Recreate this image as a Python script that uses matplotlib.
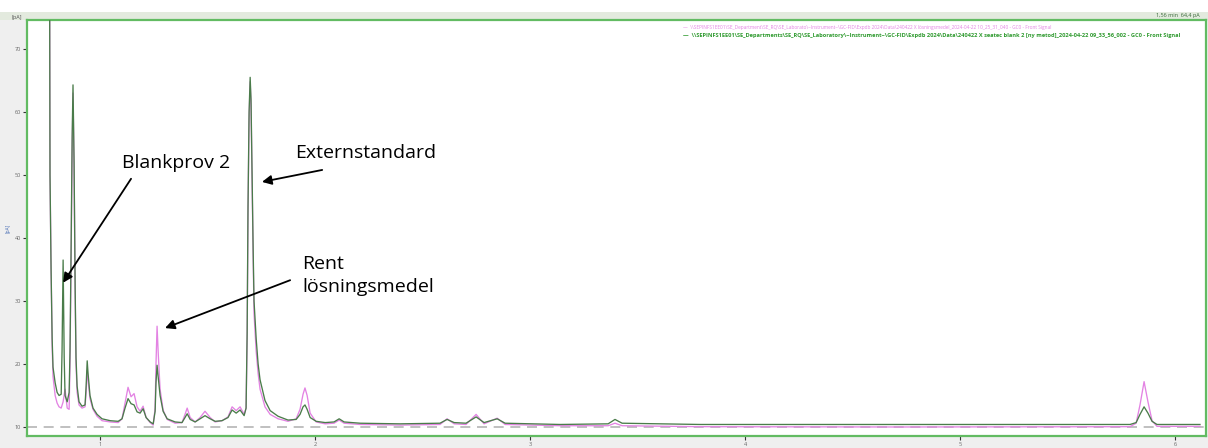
import matplotlib
matplotlib.use("Agg")
import matplotlib.pyplot as plt
from matplotlib.patches import Rectangle

# Retention time [min] and detector signal [pA] for the two runs
time_blank = [0.763, 0.767, 0.772, 0.777, 0.781, 0.791, 0.800, 0.809, 0.819, 0.823,
              0.828, 0.833, 0.837, 0.847, 0.856, 0.860, 0.865, 0.870, 0.874, 0.879,
              0.884, 0.888, 0.893, 0.902, 0.916, 0.930, 0.935, 0.940, 0.944, 0.953,
              0.967, 0.986, 1.009, 1.047, 1.084, 1.102, 1.116, 1.130, 1.144, 1.158,
              1.172, 1.186, 1.200, 1.214, 1.233, 1.247, 1.256, 1.260, 1.265, 1.270,
              1.279, 1.293, 1.312, 1.349, 1.381, 1.395, 1.405, 1.419, 1.442, 1.465,
              1.488, 1.512, 1.535, 1.567, 1.595, 1.614, 1.633, 1.651, 1.670, 1.679,
              1.684, 1.688, 1.693, 1.698, 1.702, 1.707, 1.712, 1.716, 1.726, 1.735,
              1.744, 1.767, 1.791, 1.828, 1.874, 1.912, 1.930, 1.944, 1.953, 1.963,
              1.977, 2.005, 2.047, 2.088, 2.112, 2.135, 2.209, 2.395, 2.581, 2.614,
              2.647, 2.702, 2.749, 2.786, 2.847, 2.884, 3.140, 3.363, 3.395, 3.428,
              3.791, 4.721, 5.791, 5.819, 5.837, 5.856, 5.874, 5.893, 5.916, 6.116]
signal_blank = [120, 50, 35, 24, 19.5, 17, 15.5, 15, 15.2, 22,
                36.5, 21, 15, 14, 15.5, 22, 38, 56, 64.3, 52,
                32, 21, 16.5, 14, 13.3, 13.5, 16.5, 20.5, 18.5, 15,
                13, 12, 11.3, 11.0, 10.9, 11.3, 13, 14.5, 13.7, 13.5,
                12.4, 12.2, 12.9, 11.5, 10.8, 10.5, 12.5, 17, 19.8, 18,
                15, 12.5, 11.3, 10.8, 10.7, 11.5, 12.1, 11.2, 10.8, 11.3,
                11.8, 11.3, 10.9, 11.0, 11.5, 12.7, 12.2, 12.7, 11.8, 13,
                25, 45, 60, 65.5, 62, 50, 38, 30, 24, 20,
                17.5, 14.2, 12.6, 11.7, 11.1, 11.2, 12, 13.2, 13.5, 12.8,
                11.5, 10.9, 10.7, 10.8, 11.3, 10.8, 10.6, 10.5, 10.6, 11.2,
                10.7, 10.6, 11.6, 10.7, 11.3, 10.6, 10.4, 10.5, 11.2, 10.6,
                10.4, 10.4, 10.4, 10.7, 12, 13.2, 12.2, 10.9, 10.4, 10.4]

time_solvent = [0.763, 0.767, 0.772, 0.777, 0.781, 0.791, 0.800, 0.809, 0.819, 0.828,
                0.837, 0.847, 0.856, 0.860, 0.865, 0.870, 0.874, 0.879, 0.884, 0.888,
                0.893, 0.902, 0.916, 0.930, 0.935, 0.940, 0.944, 0.953, 0.967, 0.986,
                1.009, 1.047, 1.084, 1.102, 1.116, 1.130, 1.144, 1.158, 1.172, 1.186,
                1.200, 1.214, 1.233, 1.247, 1.256, 1.260, 1.265, 1.270, 1.279, 1.293,
                1.312, 1.349, 1.381, 1.395, 1.405, 1.419, 1.442, 1.465, 1.488, 1.512,
                1.535, 1.567, 1.595, 1.614, 1.633, 1.651, 1.670, 1.679, 1.684, 1.688,
                1.693, 1.698, 1.702, 1.707, 1.712, 1.716, 1.726, 1.735, 1.744, 1.767,
                1.791, 1.828, 1.874, 1.912, 1.930, 1.944, 1.953, 1.963, 1.977, 2.005,
                2.047, 2.088, 2.112, 2.135, 2.209, 2.395, 2.581, 2.614, 2.647, 2.702,
                2.749, 2.786, 2.847, 2.884, 3.140, 3.363, 3.395, 3.428, 3.791, 4.721,
                5.791, 5.819, 5.837, 5.856, 5.874, 5.893, 5.916, 6.116]
signal_solvent = [120, 50, 35, 23, 18, 15, 13.8, 13.2, 13, 14,
                  16, 13, 12.8, 20, 36, 54, 63, 51, 31, 20,
                  15.5, 13.5, 13, 13.2, 15.5, 19, 17.5, 14.5, 12.8, 11.7,
                  11.0, 10.8, 10.7, 11.3, 13.8, 16.3, 14.8, 15.3, 13.2, 12.5,
                  13.3, 11.5, 10.7, 10.3, 13, 20, 26, 22, 16, 12.7,
                  11.2, 10.6, 10.7, 12, 13, 11.5, 10.8, 11.5, 12.5, 11.5,
                  10.8, 11.0, 11.6, 13.2, 12.6, 13.2, 12, 13, 24, 44,
                  59, 64.8, 61, 49, 37, 28, 22, 18.5, 16, 13.2,
                  12, 11.3, 10.9, 11.3, 12.8, 15.2, 16.2, 15, 12.2, 10.8,
                  10.5, 10.6, 11.1, 10.6, 10.4, 10.3, 10.4, 11.3, 10.5, 10.4,
                  12, 10.5, 11.4, 10.4, 10.2, 10.2, 10.6, 10.2, 10.05, 10.0,
                  10.05, 10.6, 13.5, 17.2, 14, 11, 10.1, 10.1]

y_ticks = [10, 20, 30, 40, 50, 60, 70]
x_ticks = [1, 2, 3, 4, 5, 6]
baseline_level = 10

path_solvent = ("\\\\SEPINFS1EE01\\SE_Department\\SE_RQ\\SE_Laborato\\~Instrument~\\GC-FID\\"
                "Expdb 2024\\Data\\240422 X lösningsmedel_2024-04-22 10_25_31_040 - GC0 - Front Signal")
path_blank = ("\\\\SEPINFS1EE01\\SE_Departments\\SE_RQ\\SE_Laboratory\\~Instrument~\\GC-FID\\"
              "Expdb 2024\\Data\\240422 X seatec blank 2 [ny metod]_2024-04-22 09_33_56_002 - GC0 - Front Signal")

PINK = "#e383e3"
GREEN = "#4a7c4a"
FRAME = "#62bb62"

plt.rcParams["font.family"] = ["Open Sans", "DejaVu Sans"]

W, H = 1208, 448
fig = plt.figure(figsize=(W / 100, H / 100), dpi=100)
fig.patch.set_facecolor("white")

# grey panel and light header strip of the viewer window
fig.patches.append(Rectangle((0, 0), 1, 1 - 12 / H, transform=fig.transFigure,
                             facecolor="#efefef", edgecolor="none", zorder=-5))
fig.patches.append(Rectangle((0, 1 - 20 / H), 1, 8 / H, transform=fig.transFigure,
                             facecolor="#e3eade", edgecolor="none", zorder=-4))

left, right, bottom, top = 27 / W, 1206 / W, 12 / H, 1 - 20 / H
ax = fig.add_axes([left, bottom, right - left, top - bottom])
ax.set_facecolor("white")

ax.axhline(baseline_level, color="#b5b5b5", lw=1.2, ls=(0, (6, 4)), zorder=1)
ax.plot(time_solvent, signal_solvent, color=PINK, lw=0.95, zorder=2)
ax.plot(time_blank, signal_blank, color=GREEN, lw=0.95, zorder=3)

ax.set_xlim(0.660, 6.144)
ax.set_ylim(8.57, 74.6)
ax.set_xticks(x_ticks)
ax.set_yticks(y_ticks)
ax.tick_params(axis="both", labelsize=4, colors="#333333", length=3, width=0.8,
               labelcolor="#666666", pad=1.5)
for sp in ax.spines.values():
    sp.set_color(FRAME)
    sp.set_linewidth(1.6)

ax.set_ylabel("[pA]", fontsize=3.5, color="#4a6fb5", labelpad=3)
fig.text(12 / W, 1 - 18 / H, "[pA]", fontsize=4, color="#555555", va="center")
fig.text(1200 / W, 1 - 15 / H, "1,56 min  64,4 pA", fontsize=4, color="#3a6b3a",
         va="center", ha="right")

# legend entries with the data file paths
fig.text(683 / W, 1 - 27 / H, "—  " + path_solvent, fontsize=3.4, color=PINK, va="center")
fig.text(683 / W, 1 - 35 / H, "—  " + path_blank, fontsize=4.1, color="#2f9a2f",
         va="center", fontweight="bold")

arrow = dict(arrowstyle="-|>", color="black", lw=1.3, mutation_scale=14,
             shrinkA=0, shrinkB=0)
fs = 14
ax.text(1.102, 51.9, "Blankprov 2", fontsize=fs, va="center", ha="left")
ax.annotate("", xy=(0.828, 32.9), xytext=(1.144, 49.4), arrowprops=arrow)
ax.text(1.907, 53.5, "Externstandard", fontsize=fs, va="center", ha="left")
ax.annotate("", xy=(1.753, 48.9), xytext=(2.033, 50.8), arrowprops=arrow)
ax.text(1.940, 34.0, "Rent\nlösningsmedel", fontsize=fs, va="center", ha="left",
        linespacing=1.35)
ax.annotate("", xy=(1.302, 25.7), xytext=(1.884, 33.3), arrowprops=arrow)

fig.savefig("out.png", dpi=100)
